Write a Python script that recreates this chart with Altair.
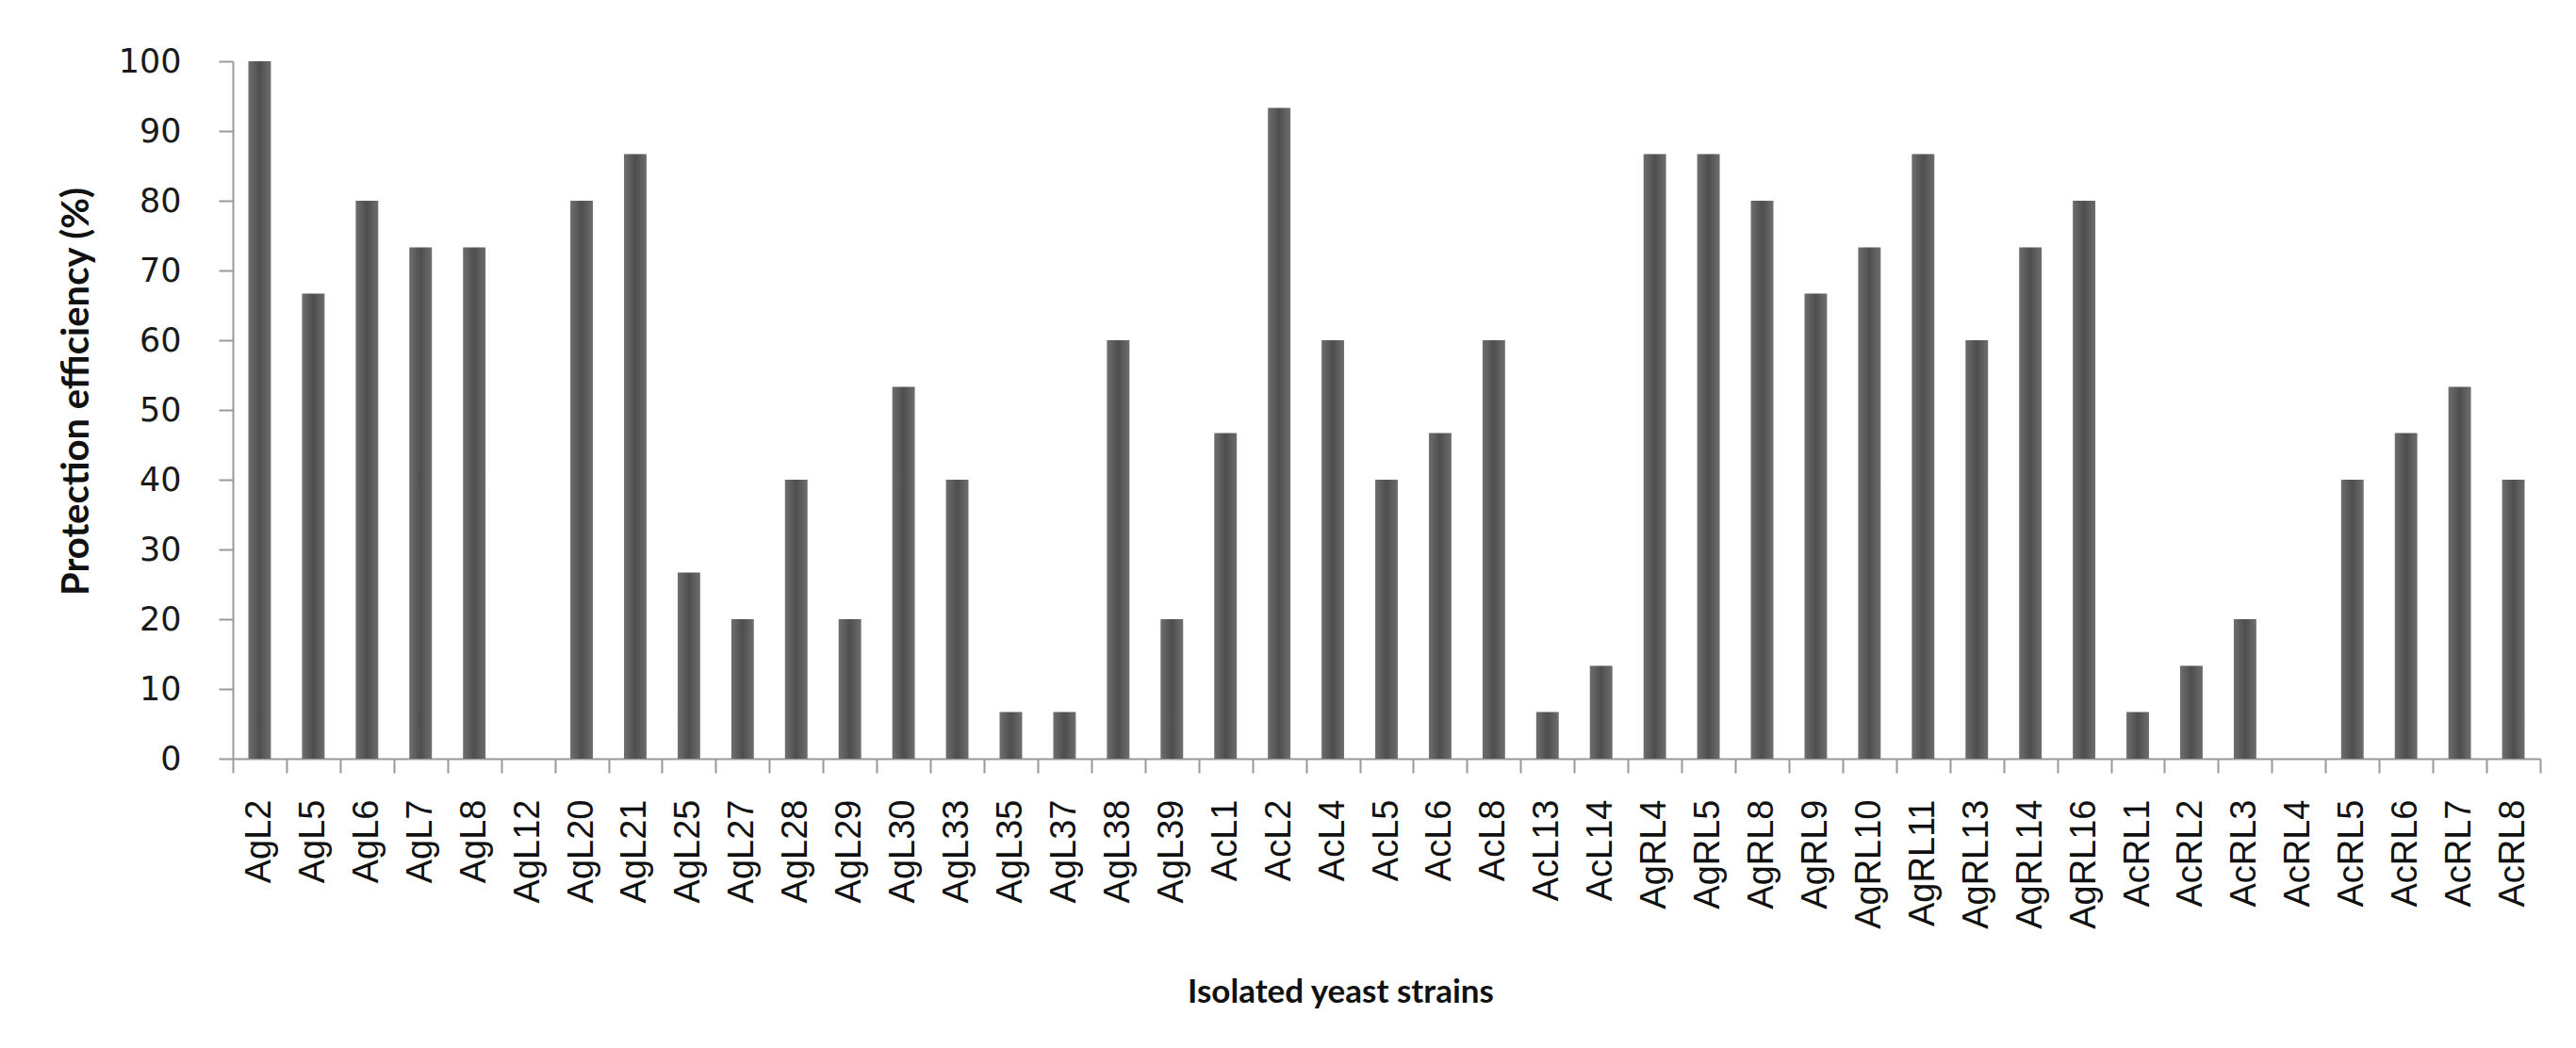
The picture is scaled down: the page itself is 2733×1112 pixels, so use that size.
import altair as alt
import pandas as pd

strains = ["AgL2", "AgL5", "AgL6", "AgL7", "AgL8", "AgL12", "AgL20", "AgL21", "AgL25",
           "AgL27", "AgL28", "AgL29", "AgL30", "AgL33", "AgL35", "AgL37", "AgL38", "AgL39",
           "AcL1", "AcL2", "AcL4", "AcL5", "AcL6", "AcL8", "AcL13", "AcL14",
           "AgRL4", "AgRL5", "AgRL8", "AgRL9", "AgRL10", "AgRL11", "AgRL13", "AgRL14", "AgRL16",
           "AcRL1", "AcRL2", "AcRL3", "AcRL4", "AcRL5", "AcRL6", "AcRL7", "AcRL8"]
efficiency = [100, 66.7, 80, 73.3, 73.3, 0, 80, 86.7, 26.7,
              20, 40, 20, 53.3, 40, 6.7, 6.7, 60, 20,
              46.7, 93.3, 60, 40, 46.7, 60, 6.7, 13.3,
              86.7, 86.7, 80, 66.7, 73.3, 86.7, 60, 73.3, 80,
              6.7, 13.3, 20, 0, 40, 46.7, 53.3, 40]
y_ticks = [0, 10, 20, 30, 40, 50, 60, 70, 80, 90, 100]

df = pd.DataFrame({"strain": strains, "eff": efficiency})

bar_fill = alt.Gradient(
    gradient="linear", x1=0, x2=1, y1=0, y2=0,
    stops=[alt.GradientStop(color="#6e6e6e", offset=0),
           alt.GradientStop(color="#4e4e4e", offset=0.5),
           alt.GradientStop(color="#6e6e6e", offset=1)])

chart = alt.Chart(df).mark_bar(
    width=alt.RelativeBandSize(0.42), color=bar_fill
).encode(
    x=alt.X("strain:N", sort=strains,
            scale=alt.Scale(paddingInner=0, paddingOuter=0),
            axis=alt.Axis(title="Isolated yeast strains", labelAngle=-90,
                          labelAlign="right", labelBaseline="middle",
                          labelFont="Liberation Sans", labelFontSize=38,
                          labelColor="#111111", labelPadding=28,
                          tickBand="extent", tickSize=15, tickColor="#999999",
                          domainColor="#999999", domainWidth=2, tickWidth=2,
                          titleFont="Lato", titleFontWeight="bold", titleFontSize=35,
                          titleColor="#111111", titlePadding=50, titleX=1175)),
    y=alt.Y("eff:Q", scale=alt.Scale(domain=[0, 100], nice=False),
            axis=alt.Axis(title="Protection efficiency (%)", values=y_ticks,
                          grid=False, labelFont="DejaVu Sans", labelFontSize=35,
                          labelColor="#1a1a1a", labelPadding=40,
                          tickSize=15, tickColor="#999999", tickWidth=2,
                          domainColor="#999999", domainWidth=2,
                          titleFont="Lato", titleFontWeight="bold", titleFontSize=40,
                          titleColor="#111111", titlePadding=24, titleY=350)),
).properties(
    width=2448, height=740,
    padding={"left": 53, "top": 40, "right": 10, "bottom": 5}
).configure_view(stroke=None)

chart.save("out.html", embed_options={"renderer": "svg", "actions": False})
